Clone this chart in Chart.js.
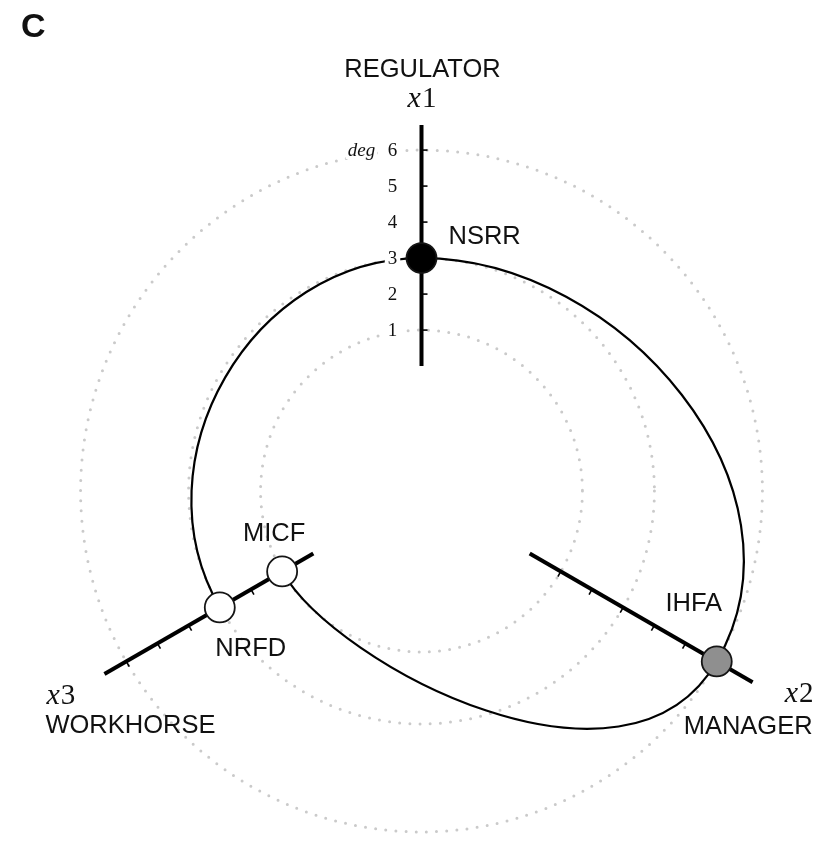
<!DOCTYPE html>
<html>
<head>
<meta charset="utf-8">
<script src="https://cdn.jsdelivr.net/npm/chart.js@4/dist/chart.umd.min.js"></script>
<style>
  html, body { margin: 0; padding: 0; background: #fff; }
  #wrap { width: 820px; height: 845px; position: relative; }
</style>
</head>
<body>
<div id="wrap"><canvas id="hive"></canvas></div>
<script>
// Hive plot axes
var axisNames = ['x1', 'x2', 'x3'];
var axisRoles = ['REGULATOR', 'MANAGER', 'WORKHORSE'];
var axisAngles = [90, -30, 210];      // degrees, counter-clockwise from east
var axisLengths = [6.7, 7.15, 6.7];    // in degree units
var tickValues = [1, 2, 3, 4, 5, 6];
var guideCircles = [1, 3, 6];

// Nodes (axis index + degree)
var nodeNames = ['NSRR', 'IHFA', 'MICF', 'NRFD'];
var nodeAxis = [0, 1, 2, 2];
var nodeDegree = [3, 6, 1, 3];

// Edges
var edgeSource = ['NSRR', 'NSRR', 'MICF'];
var edgeTarget = ['NRFD', 'IHFA', 'IHFA'];

// ---- styling ----
var INNER = 3.47;                      // empty hole in the middle, degree units
var nodeFill = ['#000000', '#8f8f8f', '#ffffff', '#ffffff'];
var edgeBend = [[4.72, 4.72], [5.56, 5.56], [3.05, 5.0]];
var tickSide = [[1, 0], [-0.5, 0.866], [0.5, 0.866]];   // screen direction of tick marks
var SANS = '"Liberation Sans", Arial, Helvetica, sans-serif';
var SERIF = '"Liberation Serif", "DejaVu Serif", serif';

function rad(a) { return a * Math.PI / 180; }

function polar(axis, deg) {
  var r = INNER + deg, a = rad(axisAngles[axis]);
  return { x: r * Math.cos(a), y: r * Math.sin(a) };
}

function nodeIndex(name) { return nodeNames.indexOf(name); }

var nodePoints = nodeNames.map(function (n, i) { return polar(nodeAxis[i], nodeDegree[i]); });

var axisDatasets = axisNames.map(function (name, i) {
  return {
    label: name,
    data: [polar(i, 0), polar(i, axisLengths[i])],
    showLine: true,
    borderColor: '#000',
    borderWidth: 4,
    borderCapStyle: 'butt',
    pointRadius: 0,
    order: 2
  };
});

var nodeDataset = {
  label: 'nodes',
  data: nodePoints,
  pointRadius: 15,
  pointHoverRadius: 15,
  pointBackgroundColor: nodeFill,
  pointBorderColor: '#151515',
  pointBorderWidth: 1.8,
  order: 0
};

function drawMathLabel(ctx, text, x, y, align) {
  var letter = text.charAt(0), digit = text.slice(1);
  ctx.font = 'italic 30px ' + SERIF;
  var w1 = ctx.measureText(letter).width;
  ctx.font = '29px ' + SERIF;
  var w2 = ctx.measureText(digit).width;
  var left = align === 'right' ? x - w1 - w2 : (align === 'center' ? x - (w1 + w2) / 2 : x);
  ctx.textAlign = 'left';
  ctx.font = 'italic 30px ' + SERIF;
  ctx.fillText(letter, left, y);
  ctx.font = '29px ' + SERIF;
  ctx.fillText(digit, left + w1 + 1, y);
}

var hivePlugin = {
  id: 'hive',
  beforeDatasetsDraw: function (chart) {
    var ctx = chart.ctx, sx = chart.scales.x, sy = chart.scales.y;
    function px(p) { return { x: sx.getPixelForValue(p.x), y: sy.getPixelForValue(p.y) }; }
    var c = px({ x: 0, y: 0 });
    ctx.save();

    // dotted guide circles
    ctx.strokeStyle = '#cacaca';
    ctx.lineWidth = 3;
    ctx.lineCap = 'round';
    ctx.setLineDash([0, 10.2]);
    guideCircles.forEach(function (g) {
      var r = sx.getPixelForValue(INNER + g) - c.x;
      ctx.beginPath();
      ctx.arc(c.x, c.y, r, 0, Math.PI * 2);
      ctx.stroke();
    });
    ctx.setLineDash([]);

    // edges as cubic curves tangent to the circle at each end
    ctx.strokeStyle = '#000';
    ctx.lineWidth = 2.2;
    ctx.lineCap = 'butt';
    edgeSource.forEach(function (s, e) {
      var i = nodeIndex(s), j = nodeIndex(edgeTarget[e]);
      var a = axisAngles[nodeAxis[i]], b = axisAngles[nodeAxis[j]];
      var diff = ((b - a) % 360 + 540) % 360 - 180;
      var sg = diff >= 0 ? 1 : -1;
      var A = nodePoints[i], B = nodePoints[j];
      var k1 = edgeBend[e][0], k2 = edgeBend[e][1];
      var C1 = { x: A.x - sg * k1 * Math.sin(rad(a)), y: A.y + sg * k1 * Math.cos(rad(a)) };
      var C2 = { x: B.x + sg * k2 * Math.sin(rad(b)), y: B.y - sg * k2 * Math.cos(rad(b)) };
      var pA = px(A), p1 = px(C1), p2 = px(C2), pB = px(B);
      ctx.beginPath();
      ctx.moveTo(pA.x, pA.y);
      ctx.bezierCurveTo(p1.x, p1.y, p2.x, p2.y, pB.x, pB.y);
      ctx.stroke();
    });

    // tick marks
    ctx.lineWidth = 1.6;
    axisNames.forEach(function (n, ai) {
      tickValues.forEach(function (v) {
        var p = px(polar(ai, v));
        ctx.beginPath();
        ctx.moveTo(p.x, p.y);
        ctx.lineTo(p.x + tickSide[ai][0] * 6, p.y + tickSide[ai][1] * 6);
        ctx.stroke();
      });
    });

    // tick labels on the first axis, with white background
    ctx.font = '19px ' + SERIF;
    ctx.textBaseline = 'middle';
    ctx.textAlign = 'center';
    tickValues.forEach(function (v) {
      var p = px(polar(0, v));
      var w = ctx.measureText(String(v)).width;
      ctx.fillStyle = '#fff';
      ctx.fillRect(p.x - 29 - w / 2 - 3, p.y - 8, w + 6, 17);
      ctx.fillStyle = '#111';
      ctx.fillText(String(v), p.x - 29, p.y + 1);
    });
    var top = px(polar(0, tickValues[tickValues.length - 1]));
    ctx.font = 'italic 19px ' + SERIF;
    var dw = ctx.measureText('deg').width;
    ctx.fillStyle = '#fff';
    ctx.fillRect(top.x - 60 - dw / 2 - 2, top.y - 8, dw + 4, 17);
    ctx.fillStyle = '#111';
    ctx.fillText('deg', top.x - 60, top.y + 1);
    ctx.restore();
  },
  afterDatasetsDraw: function (chart) {
    var ctx = chart.ctx, sx = chart.scales.x, sy = chart.scales.y;
    function px(p) { return { x: sx.getPixelForValue(p.x), y: sy.getPixelForValue(p.y) }; }
    ctx.save();
    ctx.fillStyle = '#111';
    ctx.textBaseline = 'alphabetic';

    // panel letter
    ctx.font = 'bold 34px ' + SANS;
    ctx.textAlign = 'left';
    ctx.fillText('C', 21, 37);

    // node labels
    var nodeOffsets = [[27, -14, 'left'], [-23, -50, 'center'], [-8, -30, 'center'], [31, 49, 'center']];
    ctx.font = '25.5px ' + SANS;
    nodeNames.forEach(function (n, i) {
      var p = px(nodePoints[i]), o = nodeOffsets[i];
      ctx.textAlign = o[2];
      ctx.fillText(n, p.x + o[0], p.y + o[1]);
    });

    // axis names and roles
    var e0 = px(polar(0, axisLengths[0]));
    var e1 = px(polar(1, axisLengths[1]));
    var e2 = px(polar(2, axisLengths[2]));
    ctx.font = '25.5px ' + SANS;
    ctx.textAlign = 'center';
    ctx.fillText(axisRoles[0], e0.x + 1, e0.y - 48);
    ctx.textAlign = 'right';
    ctx.fillText(axisRoles[1], e1.x + 60, e1.y + 52);
    ctx.textAlign = 'left';
    ctx.fillText(axisRoles[2], e2.x - 59, e2.y + 59);
    drawMathLabel(ctx, axisNames[0], e0.x, e0.y - 18, 'center');
    drawMathLabel(ctx, axisNames[1], e1.x + 60, e1.y + 20, 'right');
    drawMathLabel(ctx, axisNames[2], e2.x - 58, e2.y + 30, 'left');
    ctx.restore();
  }
};

var PXU = 36;   // pixels per degree unit
var CX = 421.5, CY = 491;

new Chart(document.getElementById('hive').getContext('2d'), {
  type: 'scatter',
  data: { datasets: [nodeDataset].concat(axisDatasets) },
  options: {
    responsive: true,
    maintainAspectRatio: false,
    animation: false,
    events: [],
    layout: { padding: 0, autoPadding: false },
    plugins: { legend: { display: false }, tooltip: { enabled: false } },
    scales: {
      x: { type: 'linear', display: false, min: -CX / PXU, max: (820 - CX) / PXU },
      y: { type: 'linear', display: false, min: -(845 - CY) / PXU, max: CY / PXU }
    }
  },
  plugins: [hivePlugin]
});
</script>
</body>
</html>
